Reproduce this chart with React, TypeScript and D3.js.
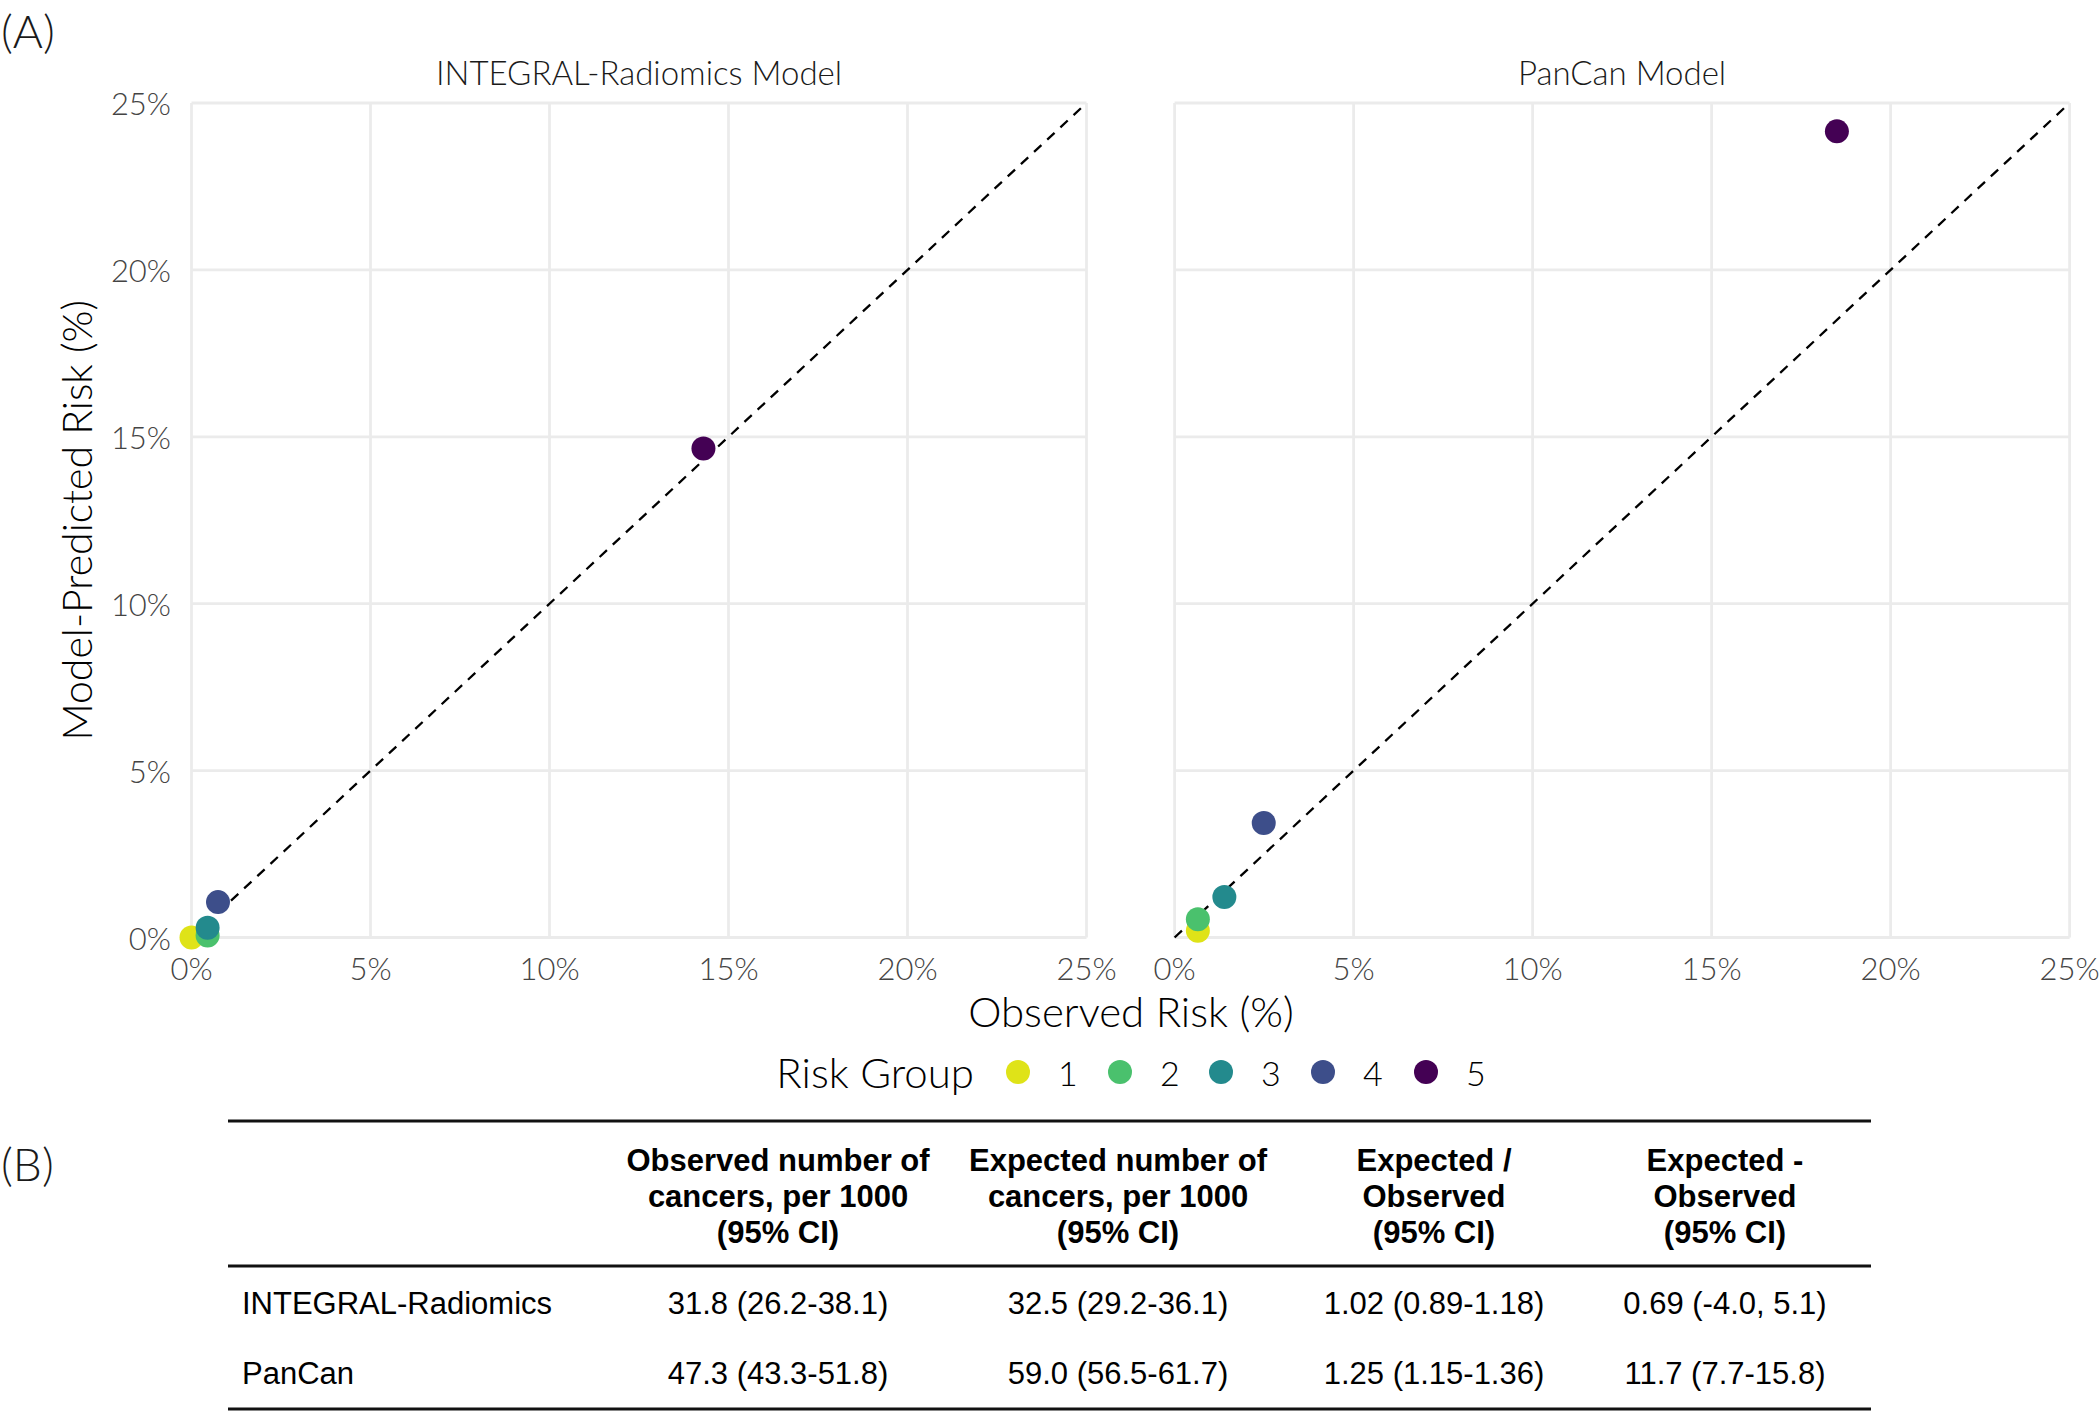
import React from "react";
import * as d3 from "d3";

// ---------- data ----------
const riskGroups = ["1", "2", "3", "4", "5"];
const panelTitles = ["INTEGRAL-Radiomics Model", "PanCan Model"];
const integralObserved = [0.0, 0.45, 0.45, 0.74, 14.3];
const integralPredicted = [0.0, 0.06, 0.29, 1.06, 14.65];
const pancanObserved = [0.65, 0.65, 1.39, 2.49, 18.5];
const pancanPredicted = [0.2, 0.55, 1.21, 3.43, 24.15];
const axisTicks = [0, 5, 10, 15, 20, 25];

const tableHeaders = [
  ["Observed number of", "cancers, per 1000", "(95% CI)"],
  ["Expected number of", "cancers, per 1000", "(95% CI)"],
  ["Expected /", "Observed", "(95% CI)"],
  ["Expected -", "Observed", "(95% CI)"],
];
const tableRowLabels = ["INTEGRAL-Radiomics", "PanCan"];
const observedPer1000 = ["31.8 (26.2-38.1)", "47.3 (43.3-51.8)"];
const expectedPer1000 = ["32.5 (29.2-36.1)", "59.0 (56.5-61.7)"];
const expectedOverObserved = ["1.02 (0.89-1.18)", "1.25 (1.15-1.36)"];
const expectedMinusObserved = ["0.69 (-4.0, 5.1)", "11.7 (7.7-15.8)"];

// ---------- layout ----------
const W = 2100;
const H = 1412;
const panelX0 = [191.5, 1174.6];
const panelW = 895;
const panelTop = 103;
const panelBottom = 937.5;
const R = 12;

const color = d3
  .scaleOrdinal<string, string>()
  .domain(riskGroups)
  .range(riskGroups.map((_, i) => d3.interpolateViridis(0.95 - (i * 0.95) / 4)));

const uiFont = "Lato, 'Noto Sans', sans-serif";
const tableFont = "'Liberation Sans', Arial, sans-serif";

function Panel({ idx, obs, pred }: { idx: number; obs: number[]; pred: number[] }) {
  const x = d3.scaleLinear().domain([0, 25]).range([panelX0[idx], panelX0[idx] + panelW]);
  const y = d3.scaleLinear().domain([0, 25]).range([panelBottom, panelTop]);
  const fmt = (d: number) => `${d}%`;
  return (
    <g>
      {axisTicks.map((t) => (
        <line key={"gx" + t} x1={x(t)} x2={x(t)} y1={y(0)} y2={y(25)} stroke="#ebebeb" strokeWidth={2.8} />
      ))}
      {axisTicks.map((t) => (
        <line key={"gy" + t} x1={x(0)} x2={x(25)} y1={y(t)} y2={y(t)} stroke="#ebebeb" strokeWidth={2.8} />
      ))}
      <line x1={x(0)} y1={y(0)} x2={x(25)} y2={y(25)} stroke="#000" strokeWidth={2.3} strokeDasharray="10 8" />
      {riskGroups.map((g, i) => (
        <circle key={g} cx={x(obs[i])} cy={y(pred[i])} r={R} fill={color(g)} />
      ))}
      {axisTicks.map((t) => (
        <text key={"tx" + t} x={x(t)} y={968} textAnchor="middle" dominantBaseline="central"
          fontFamily={uiFont} fontWeight={300} fontSize={31} fill="#444">
          {fmt(t)}
        </text>
      ))}
      {idx === 0 &&
        axisTicks.map((t) => (
          <text key={"ty" + t} x={171} y={y(t)} textAnchor="end" dominantBaseline="central"
            fontFamily={uiFont} fontWeight={300} fontSize={31} fill="#444">
            {fmt(t)}
          </text>
        ))}
      <text x={panelX0[idx] + panelW / 2} y={72} textAnchor="middle" dominantBaseline="central"
        fontFamily={uiFont} fontWeight={300} fontSize={33} fill="#1a1a1a">
        {panelTitles[idx]}
      </text>
    </g>
  );
}

export default function App() {
  const colCenters = [778, 1118, 1434, 1725];
  const headerLineY = [1160, 1196, 1232];
  const rowY = [1303, 1373];
  const tableCols = [observedPer1000, expectedPer1000, expectedOverObserved, expectedMinusObserved];
  const legendCircleX = [1018, 1120, 1221, 1323, 1426];
  return (
    <svg width={W} height={H} style={{ position: "absolute", left: 0, top: 0, background: "#fff" }}>
      <rect width={W} height={H} fill="#fff" />
      <text x={1} y={30} dominantBaseline="central" fontFamily={uiFont} fontWeight={300} fontSize={46} fill="#1a1a1a">(A)</text>
      <Panel idx={0} obs={integralObserved} pred={integralPredicted} />
      <Panel idx={1} obs={pancanObserved} pred={pancanPredicted} />
      <text transform={`translate(76,${(panelTop + panelBottom) / 2}) rotate(-90)`} textAnchor="middle"
        dominantBaseline="central" fontFamily={uiFont} fontWeight={300} fontSize={41} fill="#000">
        Model-Predicted Risk (%)
      </text>
      <text x={1131} y={1011} textAnchor="middle" dominantBaseline="central" fontFamily={uiFont}
        fontWeight={300} fontSize={42} fill="#000">
        Observed Risk (%)
      </text>
      {/* legend */}
      <text x={974} y={1072} textAnchor="end" dominantBaseline="central" fontFamily={uiFont}
        fontWeight={300} fontSize={42} fill="#000">
        Risk Group
      </text>
      {riskGroups.map((g, i) => (
        <g key={"lg" + g}>
          <circle cx={legendCircleX[i]} cy={1072} r={R} fill={color(g)} />
          <text x={legendCircleX[i] + 40} y={1072} textAnchor="start" dominantBaseline="central"
            fontFamily={uiFont} fontWeight={300} fontSize={34} fill="#000">
            {g}
          </text>
        </g>
      ))}
      {/* table */}
      <text x={1} y={1163} dominantBaseline="central" fontFamily={uiFont} fontWeight={300} fontSize={46} fill="#1a1a1a">(B)</text>
      <line x1={228} x2={1871} y1={1121} y2={1121} stroke="#111" strokeWidth={3} />
      <line x1={228} x2={1871} y1={1266} y2={1266} stroke="#111" strokeWidth={3} />
      <line x1={228} x2={1871} y1={1409} y2={1409} stroke="#111" strokeWidth={3} />
      {tableHeaders.map((lines, c) =>
        lines.map((ln, k) => (
          <text key={`h${c}-${k}`} x={colCenters[c]} y={headerLineY[k]} textAnchor="middle" dominantBaseline="central"
            fontFamily={tableFont} fontWeight={700} fontSize={31} fill="#000">
            {ln}
          </text>
        ))
      )}
      {tableRowLabels.map((lab, r) => (
        <g key={"r" + r}>
          <text x={242} y={rowY[r]} dominantBaseline="central" fontFamily={tableFont} fontSize={31} fill="#000">
            {lab}
          </text>
          {tableCols.map((col, c) => (
            <text key={`c${r}-${c}`} x={colCenters[c]} y={rowY[r]} textAnchor="middle" dominantBaseline="central"
              fontFamily={tableFont} fontSize={31} fill="#000">
              {col[r]}
            </text>
          ))}
        </g>
      ))}
    </svg>
  );
}
